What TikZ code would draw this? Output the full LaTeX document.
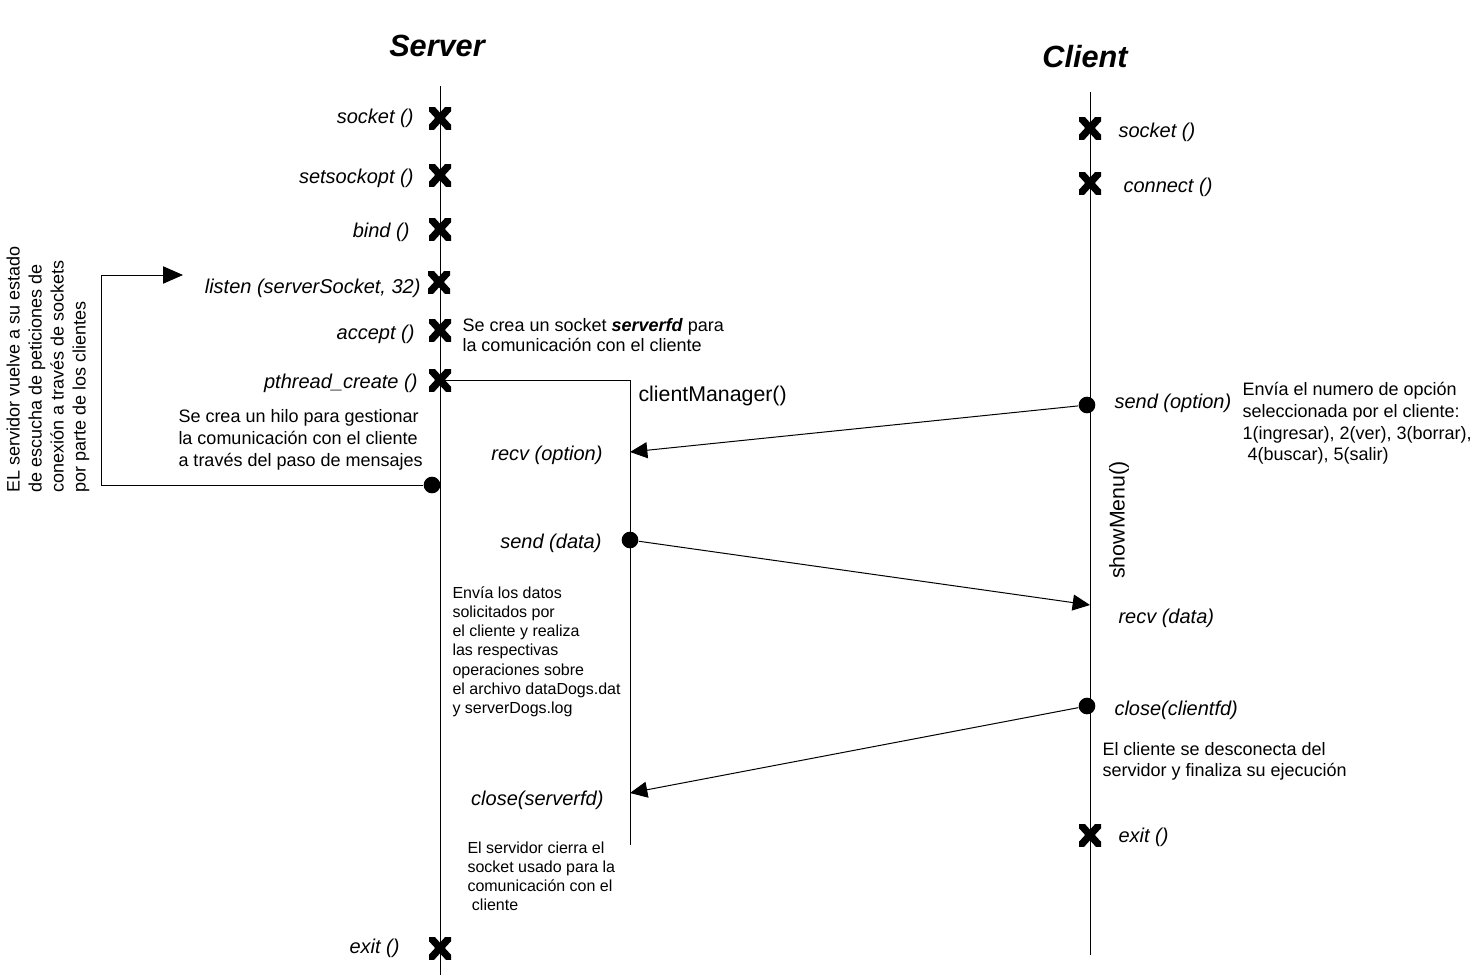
\documentclass[tikz,border=0pt]{standalone}
\usepackage{fontspec}
\setmainfont{Liberation Sans}
\usetikzlibrary{arrows.meta,positioning}
\tikzset{
  fn/.style={font=\itshape\fontsize{15}{18}\selectfont, inner sep=0pt},
  txt/.style={font=\fontsize{13.5}{16.5}\selectfont, inner sep=0pt, align=left},
  small/.style={font=\fontsize{12}{14.4}\selectfont, inner sep=0pt, align=left},
  cruz/.style={rectangle, inner sep=0pt, minimum width=16.5pt, minimum height=16.5pt,
    path picture={\draw[line width=5.4pt]
      ([shift={(-10pt,11pt)}]path picture bounding box.center) -- ([shift={(10pt,-11pt)}]path picture bounding box.center)
      ([shift={(10pt,11pt)}]path picture bounding box.center) -- ([shift={(-10pt,-11pt)}]path picture bounding box.center);}},
  dot/.style={circle, fill=black, inner sep=0pt, minimum size=12.5pt},
  msg/.style={-{Triangle[length=13pt,width=12pt]}},
  titulo/.style={font=\bfseries\itshape\fontsize{23}{23}\selectfont, inner sep=0pt},
}
\begin{document}
\begin{tikzpicture}[x=0.75pt, y=-0.75pt, line width=0.75pt]
\useasboundingbox (0,0) rectangle (1482,978);
%\draw[step=100, line width=0.1pt, black!30!white] (0,0) grid (1482,978);

    \node[titulo] (server) at (437,46) {Server};
    \node[titulo] (client) at (1085,57) {Client};

    \coordinate (s0) at (440,86);
    \coordinate (s1) at (440,975);
    \coordinate (c0) at (1090,92);
    \coordinate (c1) at (1090,955);
    \coordinate (th0) at (630,380);
    \coordinate (th1) at (630,845);
    \draw (s0) -- (s1);
    \draw (c0) -- (c1);

    % server
    \node[cruz] (xsocket) at (440,118) {};
    \node[cruz] (xsetsock) at (440,175) {};
    \node[cruz] (xbind) at (440,229) {};
    \node[cruz] (xlisten) at (439,282) {};
    \node[cruz] (xaccept) at (440,330) {};
    \node[cruz] (xthread) at (440,380) {};
    \node[cruz] (xexit) at (440,948) {};
    \node[fn, anchor=east] (lsocket) at (414,118) {socket ()};
    \node[fn, anchor=east] (lsetsock) at (414,178) {setsockopt ()};
    \node[fn, anchor=east] (lbind) at (410,232) {bind ()};
    \node[fn, anchor=east] (llisten) at (421,288) {listen (serverSocket, 32)};
    \node[fn, anchor=east] (laccept) at (415,334) {accept ()};
    \node[fn, anchor=east] (lthread) at (418,383) {pthread\_create ()};
    \node[fn, anchor=east] (lexit) at (400,948) {exit ()};

    \node[txt, anchor=north west, font=\fontsize{13.5}{15}\selectfont] (naccept) at (462,318)
         {Se crea un socket \textbf{\textit{serverfd}} para\\la comunicación con el cliente};
    \node[txt, anchor=north west] (nthread) at (178,409)
         {Se crea un hilo para gestionar\\la comunicación con el cliente\\a través del paso de mensajes};
    \node[txt, anchor=north west, rotate=90] (nloop) at (6,493)
         {EL servidor vuelve a su estado\\de escucha de peticiones de\\conexión a través de sockets\\por parte de los clientes};

    % hilo
    \draw (xthread.center) -- (th0) -- (th1);
    \node[font=\fontsize{16}{18}\selectfont, inner sep=0pt, anchor=west] (mgr) at (638,396) {clientManager()};
    \node[fn, anchor=east] (lropt) at (603,455) {recv (option)};
    \node[fn, anchor=east] (lsdata) at (602,543) {send (data)};
    \node[fn, anchor=east] (lsclose) at (604,800) {close(serverfd)};
    \node[small, anchor=north west] (ndata) at (452,586)
         {Envía los datos\\solicitados por\\el cliente y realiza\\las respectivas\\operaciones sobre\\el archivo dataDogs.dat\\y serverDogs.log};
    \node[small, anchor=north west] (nclose) at (467,841)
         {El servidor cierra el\\socket usado para la\\comunicación con el\\\ cliente};

    \node[dot] (back) at (432,485) {};
    \coordinate (lp0) at (101,485);
    \coordinate (lp1) at (183,275);
    \draw[-{Triangle[length=15pt,width=13pt]}] (back) -- (lp0) |- (lp1);

    % client
    \node[cruz] (ysocket) at (1090,128) {};
    \node[cruz] (yconnect) at (1090,183) {};
    \node[cruz] (yexit) at (1090,835) {};
    \node[fn, anchor=west] (msocket) at (1118,132) {socket ()};
    \node[fn, anchor=west] (mconnect) at (1123,187) {connect ()};
    \node[fn, anchor=west] (mexit) at (1118,837) {exit ()};

    \node[dot] (sopt) at (1087,405) {};
    \node[dot] (sdata) at (630,540) {};
    \node[dot] (cclose) at (1087,706) {};
    \coordinate (ropt) at (630,452);
    \coordinate (rdata) at (1090,605);
    \coordinate (sclose) at (630,793);
    \draw[msg] (sopt) -- (ropt);
    \draw[msg] (sdata) -- (rdata);
    \draw[msg] (cclose) -- (sclose);

    \node[fn, anchor=west] (msopt) at (1114,403) {send (option)};
    \node[fn, anchor=west] (mrdata) at (1118,618) {recv (data)};
    \node[fn, anchor=west] (mclose) at (1114,710) {close(clientfd)};
    \node[txt, anchor=north west, font=\fontsize{13.5}{16.3}\selectfont] (nopt) at (1242,382)
         {Envía el numero de opción\\seleccionada por el cliente:\\1(ingresar), 2(ver), 3(borrar),\\\ 4(buscar), 5(salir)};
    \node[txt, anchor=north west, font=\fontsize{13.5}{15.8}\selectfont] (nfin) at (1102,742)
         {El cliente se desconecta del\\servidor y finaliza su ejecución};
    \node[font=\fontsize{16}{18}\selectfont, inner sep=0pt, rotate=90] (menu) at (1119,520) {showMenu()};

\end{tikzpicture}
\end{document}
